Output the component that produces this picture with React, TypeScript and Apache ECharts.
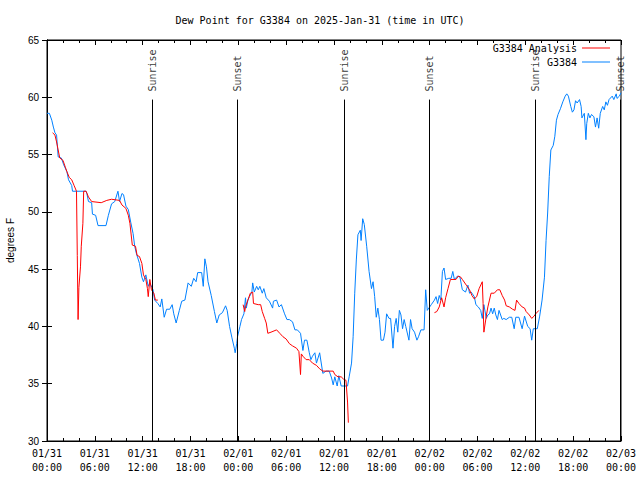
import React, { useEffect, useRef } from "react";
import * as echarts from "echarts";

const title = "Dew Point for G3384 on 2025-Jan-31 (time in UTC)";
const xTickLabels = [
  "01/31\n00:00", "01/31\n06:00", "01/31\n12:00", "01/31\n18:00",
  "02/01\n00:00", "02/01\n06:00", "02/01\n12:00", "02/01\n18:00",
  "02/02\n00:00", "02/02\n06:00", "02/02\n12:00", "02/02\n18:00",
  "02/03\n00:00",
];

// G3384 observations: hours since 01/31 00:00 UTC, dew point (F)
const obsHours = [
  0, 0.3, 0.6, 0.8, 1.0, 1.2, 1.4, 1.8, 2.1, 2.5, 2.7, 3.1, 3.2, 4.9, 5.0, 5.2, 5.6, 5.7, 6.1, 6.4,
  7.4, 7.7, 8.1, 8.5, 8.9, 9.1, 9.4, 9.6, 9.9, 10.2, 10.5, 10.8, 11.0, 11.2, 11.6, 11.9, 12.1, 12.4, 12.7, 12.9,
  13.3, 13.5, 13.9, 14.2, 14.4, 14.7, 15.0, 15.4, 15.7, 15.9, 16.2, 16.6, 16.9, 17.3, 17.7, 18.1, 18.4, 18.7, 18.9, 19.4,
  19.6, 19.8, 20.0, 20.2, 20.6, 21.0, 21.3, 21.6, 22.0, 22.4, 22.6, 22.9, 23.2, 23.5, 23.6, 23.8, 23.9, 24.2, 24.4, 24.7,
  24.9, 25.0, 25.2, 25.4, 25.7, 25.8, 26.0, 26.3, 26.5, 26.7, 27.0, 27.2, 27.5, 27.9, 28.3, 28.4, 28.8, 29.1, 29.4, 29.8,
  30.1, 30.4, 30.8, 31.1, 31.4, 31.8, 32.1, 32.3, 32.6, 32.9, 33.1, 33.3, 33.6, 33.8, 34.2, 34.6, 35.0, 35.4, 35.7, 35.9,
  36.1, 36.4, 36.6, 36.9, 37.7, 37.9, 38.2, 38.4, 38.6, 38.8, 39.0, 39.3, 39.4, 39.6, 39.8, 40.1, 40.4, 40.7, 40.9, 41.1,
  41.3, 41.5, 41.7, 41.9, 42.2, 42.4, 42.6, 42.9, 43.1, 43.4, 43.6, 43.8, 44.0, 44.2, 44.4, 44.6, 44.8, 45.0, 45.4, 45.6,
  45.8, 46.1, 46.4, 46.6, 46.9, 47.3, 47.5, 47.7, 48.0, 48.2, 48.6, 48.8, 49.0, 49.2, 49.4, 49.6, 49.8, 50.0, 50.4, 50.7,
  50.9, 51.1, 51.5, 51.8, 52.1, 52.5, 52.8, 53.0, 53.2, 53.6, 53.8, 54.1, 54.4, 54.6, 54.8, 55.1, 55.3, 55.5, 55.7, 55.9,
  56.1, 56.3, 56.5, 56.7, 57.1, 57.3, 57.6, 58.0, 58.3, 58.6, 58.8, 59.2, 59.6, 59.9, 60.3, 60.6, 60.8, 61.0, 61.5, 61.8,
  62.1, 62.4, 62.6, 62.8, 63.0, 63.2, 63.5, 63.7, 63.9, 64.1, 64.4, 64.7, 65.0, 65.2, 65.4, 65.7, 65.9, 66.1, 66.3, 66.5,
  66.8, 67.0, 67.1, 67.4, 67.6, 67.7, 67.9, 68.1, 68.3, 68.6, 68.8, 69.0, 69.2, 69.4, 69.7, 69.9, 70.1, 70.3, 70.5, 70.9,
  71.1, 71.4, 71.5, 71.8, 72.0,
];
const obsDew = [
  58.6, 58.6, 58.0, 57.4, 56.9, 56.7, 54.8, 54.7, 54.1, 53.5, 52.8, 52.3, 51.8, 51.8, 51.6, 50.9, 50.8, 49.8, 49.7, 48.8,
  48.8, 49.7, 50.7, 50.9, 51.8, 50.9, 51.6, 51.5, 50.5, 50.2, 49.1, 48.1, 47.0, 46.4, 45.5, 44.3, 43.9, 44.5, 43.5, 43.8,
  43.2, 42.3, 42.0, 41.7, 42.4, 40.8, 41.5, 41.5, 41.9, 41.1, 40.3, 41.4, 42.2, 42.3, 43.8, 43.5, 44.2, 43.9, 44.7, 44.7,
  43.5, 45.9, 45.2, 43.9, 42.7, 41.3, 40.3, 41.0, 41.2, 41.8, 41.4, 40.0, 39.0, 38.1, 37.7, 38.5, 39.1, 40.0, 40.6, 41.1,
  42.5, 41.6, 42.3, 42.6, 43.0, 43.8, 43.0, 43.5, 43.2, 43.5, 42.9, 43.3, 42.5, 42.2, 41.6, 42.2, 42.3, 41.7, 41.9, 41.1,
  40.6, 40.6, 40.4, 39.7, 39.7, 39.4, 37.9, 38.8, 38.8, 37.7, 37.1, 37.4, 37.7, 36.8, 37.7, 35.9, 36.1, 36.1, 35.5, 34.9,
  35.6, 34.8, 35.7, 34.8, 34.8, 35.6, 36.8, 39.1, 42.9, 45.8, 48.0, 48.4, 47.5, 49.4, 48.9, 47.0, 44.8, 43.3, 43.9, 42.6,
  40.8, 41.6, 40.6, 38.8, 38.8, 39.5, 41.1, 40.7, 40.7, 38.1, 40.0, 40.7, 39.5, 41.4, 41.0, 39.8, 40.6, 40.0, 38.8, 40.6,
  39.8, 39.5, 38.8, 39.1, 39.7, 39.7, 43.2, 41.4, 41.7, 41.9, 42.3, 42.6, 42.0, 42.7, 42.3, 44.8, 45.1, 44.1, 44.2, 44.2,
  44.8, 44.1, 44.4, 44.3, 43.2, 43.0, 43.6, 42.9, 43.0, 42.6, 41.9, 41.7, 41.4, 40.7, 41.9, 40.7, 41.0, 41.1, 41.6, 41.1,
  41.6, 41.0, 40.6, 41.4, 40.6, 40.7, 40.6, 40.8, 40.8, 39.8, 40.8, 40.8, 39.8, 40.9, 40.0, 39.8, 38.8, 39.8, 39.8, 40.9,
  42.3, 44.3, 47.5, 49.9, 53.1, 55.4, 55.8, 56.6, 58.0, 58.5, 59.0, 59.6, 60.1, 60.3, 60.1, 59.2, 58.7, 58.9, 59.7, 59.5,
  59.8, 59.2, 58.2, 58.6, 56.3, 57.7, 58.6, 58.2, 58.5, 58.3, 57.4, 58.2, 57.3, 58.6, 59.2, 58.9, 59.6, 59.3, 59.8, 60.1,
  59.8, 60.3, 59.9, 60.1, 60.4,
];

// G3384 Analysis: null marks gaps in the analysis record
const anaHours = [
  0.7, 1.0, 1.2, 1.4, 1.6, 2.0, 2.3, 2.5, 2.8, 3.1, 3.4, 3.7, 3.8, 3.9, 4.0, 4.2, 4.3, 4.5, 4.6, 4.9,
  5.2, 5.6, 6.8, 7.5, 8.1, 9.1, 9.4, 9.9, 10.2, 10.4, 10.7, 11.1, 11.3, 11.6, 11.9, 12.1, 12.4, 12.6, 12.7, 12.9,
  13.1, 13.4, 13.6, 13.9, 19.0,
  24.6, 24.8, 24.9, 25.2, 25.5, 25.8, 25.9, 26.5, 26.8, 27.0, 27.3, 27.5, 27.7, 28.1, 28.8, 29.2, 29.6, 30.0, 30.4, 30.8,
  31.3, 31.6, 31.8, 31.9, 32.1, 32.5, 32.9, 33.3, 33.8, 34.2, 34.6, 35.0, 35.4, 35.9, 36.1, 36.5, 36.9, 37.2, 37.5, 37.7,
  37.8, 43.0,
  48.6, 48.9, 49.2, 49.5, 49.8, 50.0, 50.3, 50.6, 51.3, 51.6, 51.9, 52.1, 52.6, 53.0, 53.3, 53.6, 53.9, 54.2, 54.6, 54.7,
  54.8, 55.1, 55.3, 55.5, 55.7, 56.1, 56.5, 56.8, 57.1, 57.4, 57.6, 58.0, 58.4, 58.7, 58.9, 59.2, 59.6, 59.9, 60.1, 60.5,
  60.8, 61.1, 61.3, 61.7,
];
const anaDew = [
  56.9, 56.7, 56.1, 55.4, 54.7, 54.5, 53.9, 53.5, 53.0, 52.8, 52.3, 51.8, 46.2, 40.6, 43.4, 45.2, 47.0, 49.0, 51.8, 51.8,
  51.3, 50.9, 50.8, 51.0, 51.1, 51.0, 50.6, 50.3, 49.7, 49.0, 47.1, 47.0, 46.2, 46.1, 45.5, 44.5, 44.1, 43.3, 42.6, 44.1,
  43.2, 42.9, 42.3, 42.3, null,
  41.9, 41.3, 41.7, 42.3, 42.9, 43.0, 42.0, 41.9, 41.9, 41.3, 40.7, 40.3, 39.4, 39.5, 39.7, 39.4, 39.1, 38.9, 38.5, 38.3,
  38.1, 37.8, 35.8, 37.6, 37.4, 37.1, 37.1, 36.8, 36.6, 36.3, 36.1, 36.1, 36.1, 36.1, 35.8, 35.6, 35.6, 35.4, 35.3, 33.4,
  31.6, null,
  41.2, 41.3, 41.7, 42.5, 41.7, 42.5, 43.3, 44.1, 44.1, 44.4, 44.3, 44.1, 43.6, 43.2, 42.7, 42.4, 42.6, 43.3, 43.9, 42.0,
  39.5, 40.9, 41.7, 42.3, 42.9, 42.9, 43.2, 43.2, 42.7, 42.3, 41.8, 41.7, 41.5, 41.4, 42.3, 42.0, 41.7, 41.6, 41.3, 41.0,
  40.7, 40.9, 41.1, 41.4,
];

const sunHours = [13.24, 23.92, 37.31, 47.97, 61.25, 71.95];
const sunNames = ["Sunrise", "Sunset", "Sunrise", "Sunset", "Sunrise", "Sunset"];
const sunLineTop = 59.8;

const MONO = "'DejaVu Sans Mono', 'Liberation Mono', monospace";
const SANS = "'Liberation Sans', Arial, sans-serif";

export default function App() {
  const ref = useRef<HTMLDivElement>(null);
  useEffect(() => {
    if (!ref.current) return;
    const chart = echarts.init(ref.current, undefined, { renderer: "svg" });
    const obsData = obsHours.map((h, i) => [h, obsDew[i]]);
    const anaData = anaHours.map((h, i) => [h, anaDew[i] === null ? "-" : anaDew[i]]);
    const sunData = sunHours.map((h, i) => ({ value: [h, sunLineTop], name: sunNames[i] }));
    const xBase = {
      type: "value" as const,
      min: 0,
      max: 72,
      interval: 6,
      axisLine: { show: true, lineStyle: { color: "#000", width: 1 } },
      splitLine: { show: false },
      axisTick: { show: true, inside: true, length: 5, lineStyle: { color: "#000" } },
      minorTick: { show: true, splitNumber: 3, length: 3, lineStyle: { color: "#000" } },
    };
    const yBase = {
      type: "value" as const,
      min: 30,
      max: 65,
      interval: 5,
      axisLine: { show: true, lineStyle: { color: "#000", width: 1 } },
      splitLine: { show: false },
      axisTick: { show: true, inside: true, length: 5, lineStyle: { color: "#000" } },
    };
    chart.setOption({
      animation: false,
      backgroundColor: "#fff",
      title: {
        text: title,
        left: "center",
        top: 10,
        textStyle: { fontFamily: MONO, fontSize: 10, fontWeight: "normal", color: "#000" },
      },
      legend: {
        orient: "vertical",
        right: 25,
        top: 37,
        align: "right",
        icon: "rect",
        itemWidth: 28,
        itemHeight: 1,
        itemGap: 2,
        data: ["G3384 Analysis", "G3384"],
        textStyle: { fontFamily: MONO, fontSize: 10, color: "#000", lineHeight: 12 },
      },
      grid: {
        left: 47,
        right: 19,
        top: 40,
        bottom: 39,
        containLabel: false,
        outerBoundsMode: "none",
        show: true,
        borderColor: "#000",
        borderWidth: 1,
      },
      xAxis: [
        {
          ...xBase,
          position: "bottom",
          axisLabel: {
            fontFamily: MONO,
            fontSize: 10,
            color: "#000",
            lineHeight: 14,
            margin: 5,
            formatter: (v: number) => xTickLabels[Math.round(v / 6)] ?? "",
          },
        },
        { ...xBase, position: "top", axisLabel: { show: false } },
      ],
      yAxis: [
        {
          ...yBase,
          position: "left",
          name: "degrees F",
          nameLocation: "middle",
          nameRotate: 90,
          nameGap: 32,
          nameTextStyle: { fontFamily: SANS, fontSize: 10, color: "#000" },
          axisLabel: { fontFamily: SANS, fontSize: 10, color: "#000", margin: 8 },
        },
        { ...yBase, position: "right", axisLabel: { show: false } },
      ],
      series: [
        {
          name: "G3384 Analysis",
          type: "line",
          data: anaData,
          symbol: "none",
          connectNulls: false,
          lineStyle: { color: "#ff0000", width: 1 },
          itemStyle: { color: "#ff0000" },
          z: 3,
        },
        {
          name: "G3384",
          type: "line",
          data: obsData,
          symbol: "none",
          lineStyle: { color: "#0080ff", width: 1 },
          itemStyle: { color: "#0080ff" },
          z: 2,
        },
        {
          name: "sun",
          type: "scatter",
          data: sunData,
          symbolSize: 0,
          silent: true,
          label: {
            show: true,
            position: "top",
            distance: 8,
            rotate: 90,
            align: "left",
            verticalAlign: "middle",
            formatter: (p: any) => p.name,
            fontFamily: MONO,
            fontSize: 10,
            color: "#000",
          },
          markLine: {
            silent: true,
            symbol: ["none", "none"],
            label: { show: false },
            lineStyle: { color: "#000", width: 1, type: "solid" },
            data: sunHours.map((h) => [{ coord: [h, 30] }, { coord: [h, sunLineTop] }]),
          },
          z: 4,
        },
      ],
    });
    return () => chart.dispose();
  }, []);
  return (
    <div
      ref={ref}
      style={{ position: "fixed", left: 0, top: 0, width: 640, height: 480 }}
    />
  );
}
